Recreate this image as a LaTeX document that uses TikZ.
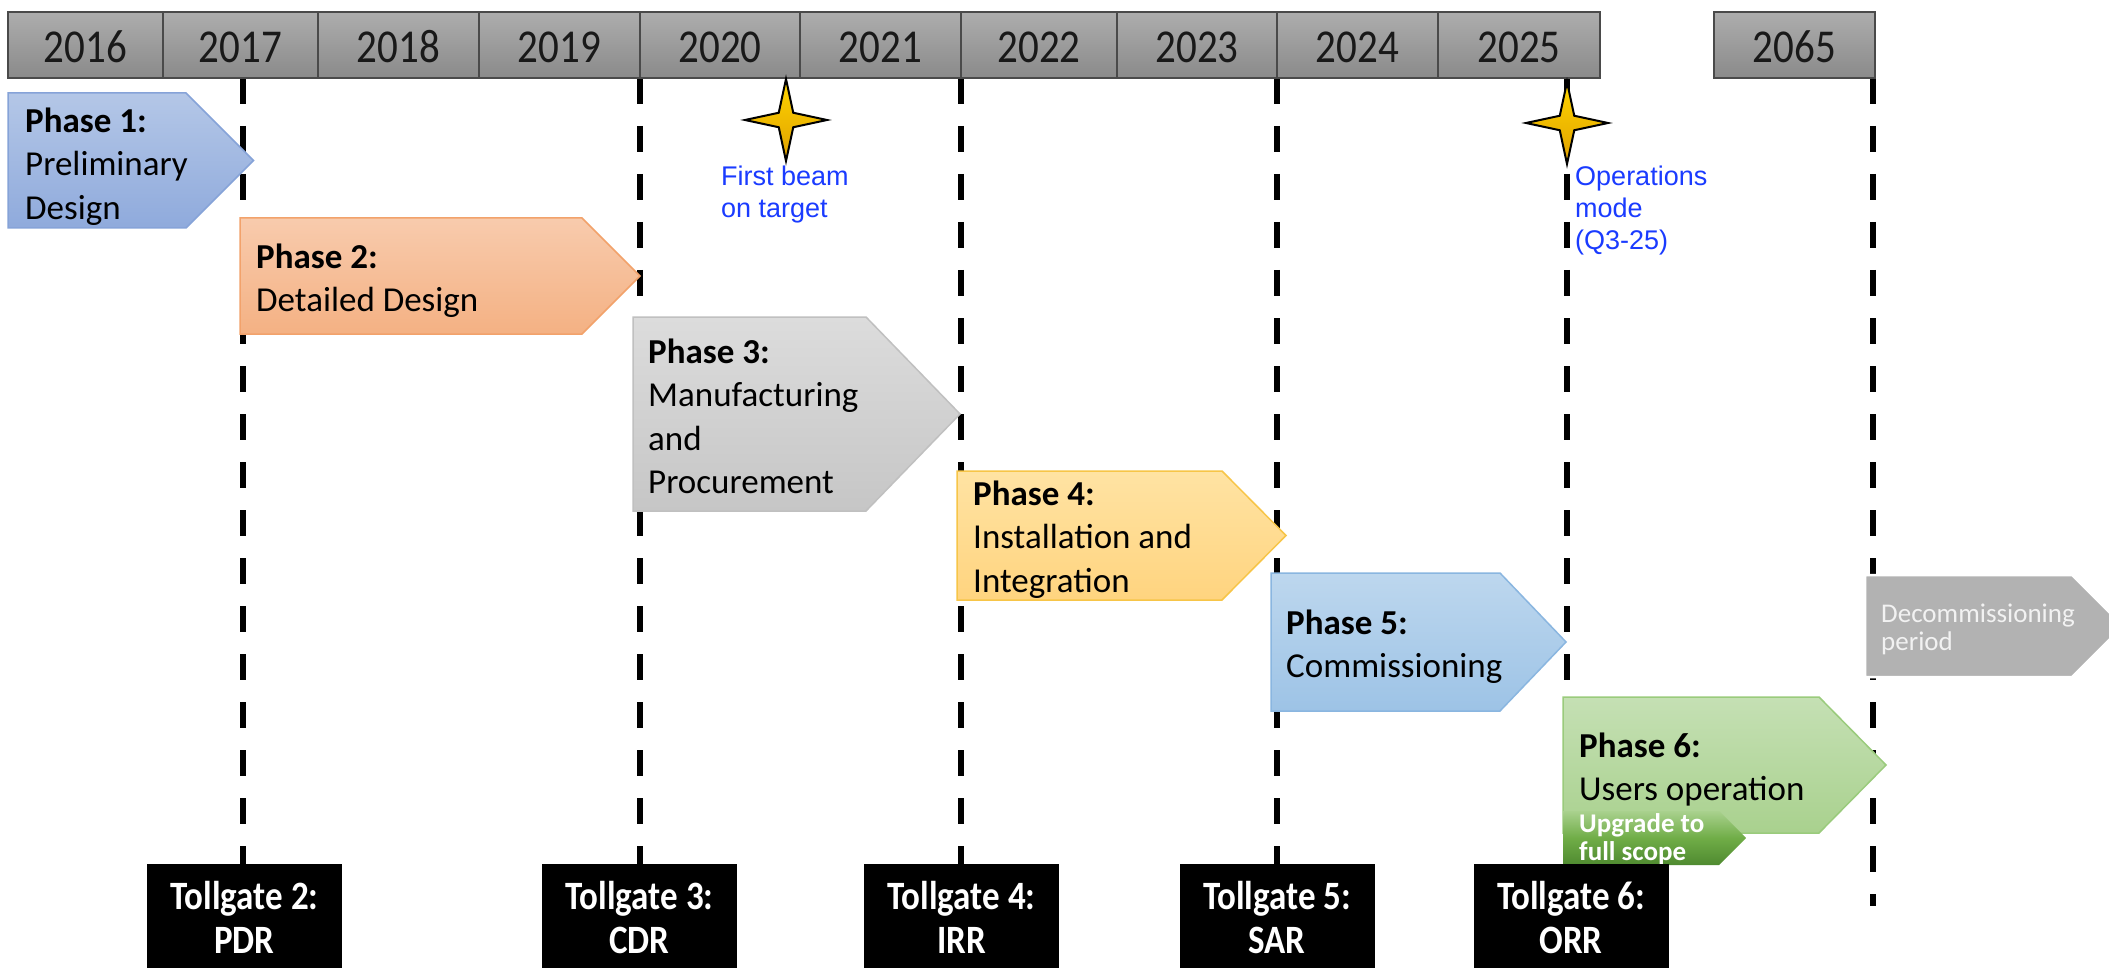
\documentclass[tikz,border=0pt]{standalone}
\usepackage{graphicx}
\usepackage{fontspec}
\setmainfont{Carlito}
\newfontfamily\arialfont{Liberation Sans}
\usetikzlibrary{shapes.geometric}

% taller glyphs for the year bar and the tollgate boxes
\newcommand\vstretch[1]{\scalebox{1}[1.15]{#1}}

\definecolor{yeartop}{HTML}{ADADAD}
\definecolor{yearbot}{HTML}{8A8A8A}
\definecolor{yearedge}{HTML}{4A4A4A}
\definecolor{pAtop}{HTML}{B4C7E7}
\definecolor{pAbot}{HTML}{8FAADC}
\definecolor{pAedge}{HTML}{86A3D8}
\definecolor{pBtop}{HTML}{F8CBAD}
\definecolor{pBbot}{HTML}{F4B183}
\definecolor{pBedge}{HTML}{F2A26B}
\definecolor{pCtop}{HTML}{DCDCDC}
\definecolor{pCbot}{HTML}{C6C6C6}
\definecolor{pCedge}{HTML}{C0C0C0}
\definecolor{pDtop}{HTML}{FFE3A3}
\definecolor{pDbot}{HTML}{FFD47F}
\definecolor{pDedge}{HTML}{F7C548}
\definecolor{pEtop}{HTML}{BDD7EE}
\definecolor{pEbot}{HTML}{9DC3E6}
\definecolor{pEedge}{HTML}{8AB6E0}
\definecolor{pFtop}{HTML}{C5E0B4}
\definecolor{pFbot}{HTML}{A9D18E}
\definecolor{pFedge}{HTML}{9ACB7C}
\definecolor{uptop}{HTML}{A9D18E}
\definecolor{upmid}{HTML}{70AD47}
\definecolor{upbot}{HTML}{4F8A30}
\definecolor{decomfill}{HTML}{B2B2B2}
\definecolor{decomtext}{HTML}{F2F2F2}
\definecolor{labblue}{HTML}{1A3BFF}
\definecolor{startop}{HTML}{FFD500}
\definecolor{starbot}{HTML}{E0A000}

\pgfdeclarelayer{lines}
\pgfdeclarelayer{top}
\pgfsetlayers{lines,main,top}

\tikzset{
  yearcell/.style={draw=yearedge, line width=1.5pt, top color=yeartop, bottom color=yearbot,
    minimum height=66pt, inner sep=0pt, text height=36pt, text depth=0pt,
    font=\fontsize{41}{49}\selectfont, text=black!90},
  phaseA/.style={draw=pAedge, line width=1.5pt, top color=pAtop, bottom color=pAbot},
  phaseB/.style={draw=pBedge, line width=1.5pt, top color=pBtop, bottom color=pBbot},
  phaseC/.style={draw=pCedge, line width=1.5pt, top color=pCtop, bottom color=pCbot},
  phaseD/.style={draw=pDedge, line width=1.5pt, top color=pDtop, bottom color=pDbot},
  phaseE/.style={draw=pEedge, line width=1.5pt, top color=pEtop, bottom color=pEbot},
  phaseF/.style={draw=pFedge, line width=1.5pt, top color=pFtop, bottom color=pFbot},
  upgradebox/.style={top color=uptop, bottom color=upbot, middle color=upmid},
  decombox/.style={fill=decomfill, draw=white, line width=2.5pt},
  ptext/.style={anchor=north west, inner sep=0pt, align=left, font=\fontsize{35}{43.5}\selectfont},
  smalltext/.style={anchor=north west, inner sep=0pt, align=left, font=\fontsize{27}{28}\selectfont},
  lab/.style={anchor=north west, inner sep=0pt, align=left, text=labblue,
    font=\arialfont\fontsize{27}{32}\selectfont},
  tgbox/.style={fill=black, draw=none, minimum width=195pt, minimum height=104pt,
    anchor=north, inner sep=0pt},
  tgtext/.style={anchor=north, inner sep=0pt, align=center, text=white,
    font=\bfseries\fontsize{35}{44}\selectfont},
  tgline/.style={line width=6.5pt, dash pattern=on 26pt off 22pt},
  milestone/.style={star, star points=4, star point ratio=4, minimum size=82pt, inner sep=0pt,
    draw=black, line width=2pt, top color=startop, bottom color=starbot},
}

\begin{document}
\begin{tikzpicture}[x=1pt,y=-1pt]
\useasboundingbox (0,0) rectangle (2109,968);

% ---- year bar ----
\node[yearcell, minimum width=155pt] (y2016) at (85.5,45) {\vstretch{2016}};
\node[yearcell, minimum width=155pt] (y2017) at (240.5,45) {\vstretch{2017}};
\node[yearcell, minimum width=161pt] (y2018) at (398.5,45) {\vstretch{2018}};
\node[yearcell, minimum width=161pt] (y2019) at (559.5,45) {\vstretch{2019}};
\node[yearcell, minimum width=160pt] (y2020) at (720,45) {\vstretch{2020}};
\node[yearcell, minimum width=161pt] (y2021) at (880.5,45) {\vstretch{2021}};
\node[yearcell, minimum width=156pt] (y2022) at (1039,45) {\vstretch{2022}};
\node[yearcell, minimum width=160pt] (y2023) at (1197,45) {\vstretch{2023}};
\node[yearcell, minimum width=161pt] (y2024) at (1357.5,45) {\vstretch{2024}};
\node[yearcell, minimum width=162pt] (y2025) at (1519,45) {\vstretch{2025}};
\node[yearcell, minimum width=161pt] (y2065) at (1794.5,45) {\vstretch{2065}};

% tollgate line tops
\coordinate (gA) at (243,78);
\coordinate (gB) at (640,78);
\coordinate (gC) at (961,78);
\coordinate (gD) at (1277,78);
\coordinate (gE) at (1567,78);
\coordinate (gF) at (1873,78);
\coordinate (gFend) at (1873,906);

% ---- phases ----
\path[phaseA] (8,93) -- (186,93) -- (253.5,160.5) -- (186,228) -- (8,228) -- cycle;
\node[ptext] (tphA) at (25,101.5) {\strut\textbf{Phase 1:}\\Preliminary\\Design};

\path[phaseB] (240,218) -- (582,218) -- (640,276) -- (582,334) -- (240,334) -- cycle;
\node[ptext] (tphB) at (256,237.5) {\strut\textbf{Phase 2:}\\Detailed Design};

\path[phaseC] (633,317) -- (866,317) -- (960,414) -- (866,511) -- (633,511) -- cycle;
\node[ptext] (tphC) at (648,332.5) {\strut\textbf{Phase 3:}\\Manufacturing\\and\\Procurement};

\path[phaseD] (957,471) -- (1222,471) -- (1286,535.5) -- (1222,600) -- (957,600) -- cycle;
\node[ptext] (tphD) at (973,474.5) {\strut\textbf{Phase 4:}\\Installation and\\Integration};

\path[phaseE] (1271,573) -- (1500,573) -- (1566,642) -- (1500,711) -- (1271,711) -- cycle;
\node[ptext] (tphE) at (1286,603.5) {\strut\textbf{Phase 5:}\\Commissioning};

\path[phaseF] (1563,697) -- (1819,697) -- (1886,765) -- (1819,833) -- (1563,833) -- cycle;
\node[ptext] (tphF) at (1579,726.5) {\strut\textbf{Phase 6:}\\Users operation};

\path[upgradebox] (1563,811) -- (1719,811) -- (1746,838) -- (1719,865) -- (1563,865) -- cycle;
\node[smalltext, text=white, font=\bfseries\fontsize{27}{28}\selectfont] (tup) at (1579,812.4)
  {\strut Upgrade to\\full scope};

\begin{scope}
  \clip (0,0) rectangle (2109,968);
  \path[decombox] (1865,575) -- (2072,575) -- (2123,626) -- (2072,677) -- (1865,677) -- cycle;
\end{scope}
\node[smalltext, text=decomtext] (tdecom) at (1881,602.4) {\strut Decommissioning\\period};

% ---- milestones ----
\node[milestone] (starA) at (786,120) {};
\node[milestone] (starB) at (1567,123) {};
\node[lab] (labA) at (721,162.6) {\strut First beam\\on target};
\node[lab] (labB) at (1575,162.6) {\strut Operations\\mode\\(Q3-25)};

% ---- tollgates ----
\begin{pgfonlayer}{top}
  \node[tgbox] (tgA) at (244.5,864) {};
  \node[tgtext] (tgAt) at (244.5,878.2) {\strut\vstretch{Tollgate 2:}\\\vstretch{PDR}};
  \node[tgbox] (tgB) at (639.5,864) {};
  \node[tgtext] (tgBt) at (639.5,878.2) {\strut\vstretch{Tollgate 3:}\\\vstretch{CDR}};
  \node[tgbox] (tgC) at (961.5,864) {};
  \node[tgtext] (tgCt) at (961.5,878.2) {\strut\vstretch{Tollgate 4:}\\\vstretch{IRR}};
  \node[tgbox] (tgD) at (1277,864) {};
  \node[tgtext] (tgDt) at (1277,878.2) {\strut\vstretch{Tollgate 5:}\\\vstretch{SAR}};
  \node[tgbox] (tgE) at (1571,864) {};
  \node[tgtext] (tgEt) at (1571,878.2) {\strut\vstretch{Tollgate 6:}\\\vstretch{ORR}};
\end{pgfonlayer}

% ---- dashed tollgate lines ----
\begin{pgfonlayer}{lines}
  \fill[white] (0,0) rectangle (2109,968);
  \draw[tgline] (gA) -- (gA |- tgA.north);
  \draw[tgline] (gB) -- (gB |- tgB.north);
  \draw[tgline] (gC) -- (gC |- tgC.north);
  \draw[tgline] (gD) -- (gD |- tgD.north);
  \draw[tgline] (gE) -- (gE |- tgE.north);
  \draw[tgline] (gF) -- (gFend);
\end{pgfonlayer}
\end{tikzpicture}
\end{document}
